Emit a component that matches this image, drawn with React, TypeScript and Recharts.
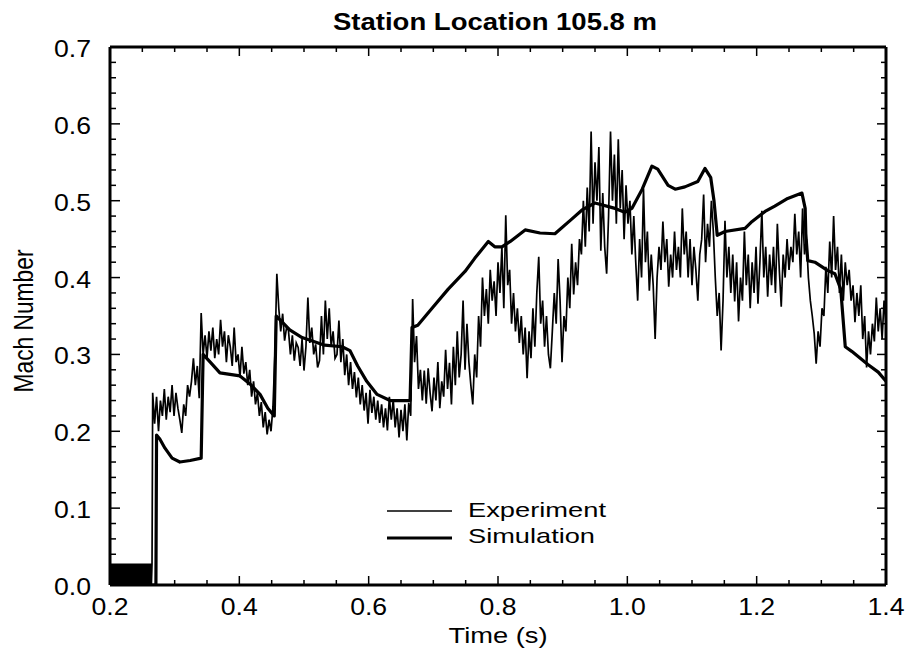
import React from 'react';
import { LineChart, Line, XAxis, YAxis, Legend, Label } from 'recharts';

// Time axis ticks (minor every 0.05 s) and Mach ticks (minor every 0.02)
const timeTicks = [0.2, 0.25, 0.3, 0.35, 0.4, 0.45, 0.5, 0.55, 0.6, 0.65, 0.7, 0.75, 0.8, 0.85, 0.9, 0.95, 1.0, 1.05, 1.1, 1.15, 1.2, 1.25, 1.3, 1.35, 1.4];
const machTicks = [0, 0.02, 0.04, 0.06, 0.08, 0.1, 0.12, 0.14, 0.16, 0.18, 0.2, 0.22, 0.24, 0.26, 0.28, 0.3, 0.32, 0.34, 0.36, 0.38, 0.4, 0.42, 0.44, 0.46, 0.48, 0.5, 0.52, 0.54, 0.56, 0.58, 0.6, 0.62, 0.64, 0.66, 0.68, 0.7];

// Experiment before the shock arrives: sensor noise 0..0.028, sampled every 1 ms from 0.200 s
const baselineStart = 0.2;
const baselineStep = 0.001;
const baselineMach = [
  0, 0.028, 0, 0.028, 0, 0.028, 0, 0.028, 0, 0.028, 0, 0.028, 0, 0.028, 0, 0.028, 0, 0.028, 0, 0.028,
  0, 0.028, 0, 0.028, 0, 0.028, 0, 0.028, 0, 0.028, 0, 0.028, 0, 0.028, 0, 0.028, 0, 0.028, 0, 0.028,
  0, 0.028, 0, 0.028, 0, 0.028, 0, 0.028, 0, 0.028, 0, 0.028, 0, 0.028, 0, 0.028, 0, 0.028, 0, 0.028,
  0, 0.028, 0, 0.028, 0, 0.028,
];

// Experiment after the shock, read every 3 ms from 0.266 s
const experimentStart = 0.266;
const experimentStep = 0.003;
const experimentMach = [
  0.25, 0.21, 0.245, 0.2, 0.24, 0.22, 0.255, 0.215, 0.245, 0.225,
  0.26, 0.22, 0.25, 0.23, 0.215, 0.198, 0.235, 0.22, 0.26, 0.245,
  0.265, 0.295, 0.26, 0.285, 0.243, 0.354, 0.3, 0.325, 0.295, 0.33,
  0.305, 0.335, 0.295, 0.32, 0.3, 0.345, 0.31, 0.33, 0.29, 0.325,
  0.31, 0.285, 0.335, 0.29, 0.3, 0.27, 0.31, 0.275, 0.29, 0.26,
  0.28, 0.245, 0.265, 0.235, 0.25, 0.22, 0.238, 0.205, 0.225, 0.196,
  0.215, 0.2, 0.232, 0.3, 0.405, 0.36, 0.33, 0.353, 0.318, 0.335,
  0.331, 0.3, 0.325, 0.292, 0.315, 0.309, 0.285, 0.32, 0.279, 0.31,
  0.374, 0.315, 0.335, 0.3, 0.313, 0.283, 0.292, 0.35, 0.3, 0.37,
  0.32, 0.36, 0.31, 0.33, 0.295, 0.3, 0.344, 0.29, 0.32, 0.273,
  0.3, 0.26, 0.29, 0.255, 0.277, 0.244, 0.27, 0.235, 0.26, 0.227,
  0.25, 0.21, 0.254, 0.224, 0.245, 0.215, 0.24, 0.211, 0.235, 0.205,
  0.23, 0.201, 0.245, 0.215, 0.241, 0.205, 0.23, 0.192, 0.228, 0.2,
  0.235, 0.188, 0.237, 0.22, 0.372, 0.29, 0.324, 0.255, 0.28, 0.24,
  0.279, 0.236, 0.282, 0.25, 0.226, 0.27, 0.24, 0.29, 0.23, 0.265,
  0.245, 0.306, 0.255, 0.289, 0.235, 0.31, 0.26, 0.33, 0.27, 0.3,
  0.37, 0.28, 0.34, 0.29, 0.26, 0.235, 0.3, 0.27, 0.35, 0.31,
  0.4, 0.35, 0.385, 0.34, 0.41, 0.37, 0.395, 0.35, 0.42, 0.38,
  0.44, 0.36, 0.481, 0.39, 0.41, 0.34, 0.38, 0.33, 0.36, 0.315,
  0.35, 0.3, 0.335, 0.269, 0.33, 0.295, 0.36, 0.31, 0.38, 0.427,
  0.34, 0.37, 0.31, 0.35, 0.3, 0.282, 0.33, 0.38, 0.34, 0.424,
  0.37, 0.29, 0.35, 0.33, 0.4, 0.36, 0.444, 0.378, 0.42, 0.39,
  0.45, 0.43, 0.5, 0.44, 0.517, 0.46, 0.59, 0.47, 0.55, 0.5,
  0.57, 0.435, 0.51, 0.44, 0.405, 0.48, 0.59, 0.5, 0.56, 0.47,
  0.58, 0.49, 0.54, 0.45, 0.52, 0.47, 0.5, 0.43, 0.48, 0.42,
  0.37, 0.45, 0.4, 0.516, 0.42, 0.46, 0.383, 0.43, 0.39, 0.32,
  0.4, 0.44, 0.41, 0.473, 0.42, 0.45, 0.388, 0.43, 0.4, 0.46,
  0.41, 0.44, 0.4, 0.49, 0.43, 0.46, 0.4, 0.45, 0.39, 0.44,
  0.41, 0.37, 0.43, 0.45, 0.508, 0.42, 0.47, 0.44, 0.5, 0.46,
  0.4, 0.35, 0.38, 0.305, 0.37, 0.474, 0.4, 0.44, 0.38, 0.43,
  0.369, 0.42, 0.343, 0.4, 0.37, 0.46, 0.39, 0.43, 0.36, 0.42,
  0.38, 0.44, 0.366, 0.42, 0.487, 0.4, 0.44, 0.375, 0.43, 0.39,
  0.44, 0.38, 0.47, 0.41, 0.362, 0.43, 0.4, 0.45, 0.41, 0.44,
  0.42, 0.483, 0.43, 0.46, 0.4, 0.49, 0.43, 0.45, 0.4, 0.37,
  0.35, 0.327, 0.288, 0.33, 0.31, 0.36, 0.35, 0.414, 0.38, 0.447,
  0.4, 0.48, 0.41, 0.44, 0.38, 0.43, 0.37, 0.42, 0.39, 0.41,
  0.37, 0.39, 0.342, 0.38, 0.35, 0.39, 0.32, 0.35, 0.283, 0.33,
  0.3, 0.34, 0.317, 0.374, 0.33, 0.36, 0.32, 0.37, 0.34,
];

// Simulation (smooth curve), breakpoints
const simTime = [
  0.2, 0.271, 0.272, 0.277, 0.285, 0.296, 0.308, 0.324, 0.341, 0.344, 0.355, 0.37, 0.401, 0.416, 0.432, 0.444, 0.454,
  0.457, 0.463, 0.478, 0.497, 0.532, 0.559, 0.571, 0.583, 0.597, 0.613, 0.633, 0.664, 0.667, 0.676, 0.698, 0.723,
  0.749, 0.764, 0.785, 0.795, 0.806, 0.819, 0.842, 0.865, 0.888, 0.914, 0.93, 0.95, 0.981, 0.996, 1.007, 1.023,
  1.038, 1.047, 1.063, 1.074, 1.089, 1.109, 1.12, 1.129, 1.134, 1.139, 1.151, 1.182, 1.193, 1.213, 1.228, 1.248,
  1.27, 1.275, 1.276, 1.279, 1.29, 1.31, 1.321, 1.33, 1.337, 1.347, 1.372, 1.388, 1.4,
];
const simMach = [
  0, 0, 0.195, 0.19, 0.178, 0.165, 0.16, 0.162, 0.165, 0.3, 0.29, 0.276, 0.272, 0.262, 0.248, 0.23, 0.22,
  0.35, 0.345, 0.332, 0.322, 0.312, 0.31, 0.305, 0.285, 0.265, 0.248, 0.24, 0.24, 0.335, 0.338, 0.36, 0.385,
  0.408, 0.425, 0.447, 0.44, 0.44, 0.447, 0.462, 0.458, 0.457, 0.476, 0.488, 0.497, 0.49, 0.485, 0.49, 0.515,
  0.545, 0.541, 0.52, 0.515, 0.518, 0.525, 0.542, 0.53, 0.5, 0.455, 0.46, 0.464, 0.473, 0.486, 0.493, 0.503,
  0.51, 0.49, 0.457, 0.422, 0.42, 0.409, 0.405, 0.385, 0.31, 0.304, 0.287, 0.277, 0.265,
];

const experimentData = [
  ...baselineMach.map((m, i) => ({ t: +(baselineStart + i * baselineStep).toFixed(3), mach: m })),
  ...experimentMach.map((m, i) => ({ t: +(experimentStart + i * experimentStep).toFixed(3), mach: m })),
];
const simulationData = simTime.map((t, i) => ({ t, mach: simMach[i] }));

const FONT = '"Liberation Sans", Arial, Helvetica, sans-serif';
const isMajorT = (v: number) => Math.round(v * 100) % 20 === 0;
const isMajorM = (v: number) => Math.round(v * 100) % 10 === 0;

// ticks point inward on all four sides, labels only on bottom/left
const BottomTick = (p: any) => {
  const v = p.payload.value;
  const major = isMajorT(v);
  return (
    <g>
      <line x1={p.x} y1={p.y} x2={p.x} y2={p.y - (major ? 9 : 5)} stroke="#000" strokeWidth={1.5} />
      {major && (
        <text x={p.x} y={p.y + 30} textAnchor="middle" fontSize={23} fontFamily={FONT} fill="#000"
          textLength={37} lengthAdjust="spacingAndGlyphs">
          {v.toFixed(1)}
        </text>
      )}
    </g>
  );
};
const TopTick = (p: any) => {
  const major = isMajorT(p.payload.value);
  return <line x1={p.x} y1={p.y} x2={p.x} y2={p.y + (major ? 9 : 5)} stroke="#000" strokeWidth={1.5} />;
};
const LeftTick = (p: any) => {
  const v = p.payload.value;
  const major = isMajorM(v);
  return (
    <g>
      <line x1={p.x} y1={p.y} x2={p.x + (major ? 10 : 6)} y2={p.y} stroke="#000" strokeWidth={1.5} />
      {major && (
        <text x={p.x - 19} y={p.y + 10} textAnchor="end" fontSize={23} fontFamily={FONT} fill="#000"
          textLength={37} lengthAdjust="spacingAndGlyphs">
          {v.toFixed(1)}
        </text>
      )}
    </g>
  );
};
const RightTick = (p: any) => {
  const major = isMajorM(p.payload.value);
  return <line x1={p.x} y1={p.y} x2={p.x - (major ? 9 : 5)} y2={p.y} stroke="#000" strokeWidth={1.5} />;
};

const LegendBox = () => (
  <svg width={240} height={58}>
    <line x1={7} y1={18} x2={72} y2={18} stroke="#000" strokeWidth={1.5} />
    <text x={88} y={24} fontSize={21} fontFamily={FONT} textLength={138} lengthAdjust="spacingAndGlyphs">Experiment</text>
    <line x1={7} y1={45} x2={72} y2={45} stroke="#000" strokeWidth={3} />
    <text x={88} y={50} fontSize={21} fontFamily={FONT} textLength={127} lengthAdjust="spacingAndGlyphs">Simulation</text>
  </svg>
);

export default function App() {
  return (
    <div style={{ position: 'absolute', left: 0, top: 0, background: '#fff' }}>
      <LineChart width={908} height={653} margin={{ top: 46, right: 21, bottom: 8, left: 30 }}>
        <XAxis xAxisId="b" dataKey="t" type="number" domain={[0.2, 1.4]} allowDataOverflow ticks={timeTicks}
          interval={0} tickSize={0} tickMargin={0} tickLine={false} tick={BottomTick} height={60}
          axisLine={{ stroke: '#000', strokeWidth: 3 }}>
          <Label content={(props: any) => {
            const vb = props.viewBox || { x: 110, y: 585, width: 776 };
            return (
              <text x={vb.x + vb.width / 2} y={vb.y + 58} textAnchor="middle" fontSize={22} fontFamily={FONT}
                textLength={99} lengthAdjust="spacingAndGlyphs">Time (s)</text>
            );
          }} />
        </XAxis>
        <XAxis xAxisId="t" dataKey="t" orientation="top" type="number" domain={[0.2, 1.4]} allowDataOverflow ticks={timeTicks}
          interval={0} tickSize={0} tickMargin={0} tickLine={false} tick={TopTick} height={1}
          axisLine={{ stroke: '#000', strokeWidth: 3 }}>
          <Label content={(props: any) => {
            const vb = props.viewBox || { x: 110, y: 46, width: 776 };
            return (
              <text x={vb.x + vb.width / 2 - 3} y={vb.y - 16} textAnchor="middle" fontSize={24} fontWeight="bold"
                fontFamily={FONT} textLength={324} lengthAdjust="spacingAndGlyphs">Station Location 105.8 m</text>
            );
          }} />
        </XAxis>
        <YAxis yAxisId="l" type="number" domain={[0, 0.7]} allowDataOverflow ticks={machTicks}
          interval={0} tickSize={0} tickMargin={0} tickLine={false} tick={LeftTick} width={80}
          axisLine={{ stroke: '#000', strokeWidth: 3 }}>
          <Label content={(props: any) => {
            const vb = props.viewBox || { x: 30, y: 47, height: 538 };
            const cx = 33;
            const cy = vb.y + vb.height / 2 + 5;
            return (
              <text x={cx} y={cy} transform={`rotate(-90, ${cx}, ${cy})`} textAnchor="middle" fontSize={28}
                fontFamily={FONT} textLength={143} lengthAdjust="spacingAndGlyphs">Mach Number</text>
            );
          }} />
        </YAxis>
        <YAxis yAxisId="r" orientation="right" type="number" domain={[0, 0.7]} allowDataOverflow ticks={machTicks}
          interval={0} tickSize={0} tickMargin={0} tickLine={false} tick={RightTick} width={1}
          axisLine={{ stroke: '#000', strokeWidth: 3 }} />
        <Legend layout="horizontal" verticalAlign="middle" align="center" content={LegendBox}
          wrapperStyle={{ position: 'absolute', left: 380, top: 493, width: 240, height: 58 }} />
        <Line xAxisId="b" yAxisId="l" data={experimentData} dataKey="mach" name="Experiment" type="linear"
          stroke="#000" strokeWidth={1.7} dot={false} isAnimationActive={false} />
        <Line xAxisId="b" yAxisId="l" data={simulationData} dataKey="mach" name="Simulation" type="linear"
          stroke="#000" strokeWidth={3.2} strokeLinejoin="round" dot={false} isAnimationActive={false} />
        {/* invisible series so the top/right frame axes get a scale */}
        <Line xAxisId="t" yAxisId="r" data={simulationData} dataKey="mach" legendType="none" type="linear"
          stroke="none" dot={false} activeDot={false} isAnimationActive={false} />
      </LineChart>
    </div>
  );
}
